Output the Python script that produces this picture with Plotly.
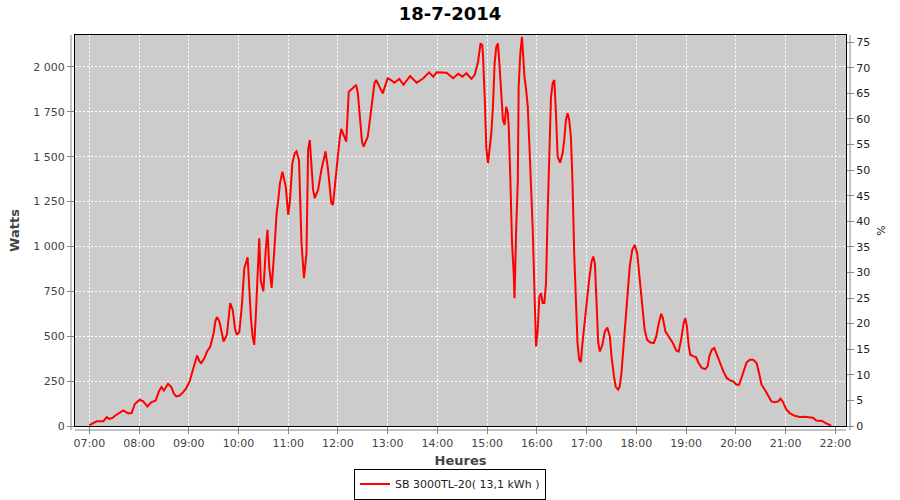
import plotly.graph_objects as go
import pandas as pd

DATE = "2014-07-18"
TITLE = "18-7-2014"
SERIES_NAME = "SB 3000TL-20( 13,1 kWh )"

times = [
    "07:00", "07:05", "07:09", "07:17", "07:21", "07:24", "07:28", "07:31", "07:36", "07:41",
    "07:47", "07:51", "07:55", "08:01", "08:05", "08:10", "08:15", "08:20", "08:24", "08:27",
    "08:30", "08:35", "08:39", "08:42", "08:45", "08:49", "08:53", "08:57", "09:01", "09:05",
    "09:10", "09:13", "09:15", "09:19", "09:22", "09:26", "09:30", "09:32", "09:34", "09:37",
    "09:40", "09:42", "09:46", "09:48", "09:50", "09:53", "09:56", "09:58", "10:01", "10:04",
    "10:07", "10:11", "10:13", "10:15", "10:17", "10:19", "10:21", "10:23", "10:25", "10:27",
    "10:30", "10:33", "10:35", "10:37", "10:40", "10:43", "10:46", "10:48", "10:50", "10:53",
    "10:57", "11:00", "11:02", "11:05", "11:08", "11:10", "11:13", "11:16", "11:19", "11:22",
    "11:24", "11:26", "11:28", "11:30", "11:32", "11:36", "11:40", "11:45", "11:48", "11:52",
    "11:54", "11:58", "12:02", "12:04", "12:08", "12:10", "12:13", "12:17", "12:22", "12:24",
    "12:26", "12:29", "12:31", "12:36", "12:40", "12:44", "12:46", "12:50", "12:54", "13:00",
    "13:04", "13:08", "13:14", "13:19", "13:27", "13:35", "13:43", "13:50", "13:55", "13:59",
    "14:11", "14:19", "14:25", "14:30", "14:35", "14:41", "14:45", "14:49", "14:52", "14:54",
    "14:55", "14:57", "14:59", "15:01", "15:03", "15:05", "15:07", "15:09", "15:11", "15:13",
    "15:15", "15:17", "15:19", "15:21", "15:23", "15:25", "15:26", "15:28", "15:30", "15:32",
    "15:33", "15:35", "15:37", "15:38", "15:40", "15:42", "15:43", "15:45", "15:47", "15:49",
    "15:51", "15:53", "15:55", "15:57", "15:59", "16:01", "16:03", "16:05", "16:07", "16:09",
    "16:11", "16:13", "16:15", "16:17", "16:19", "16:21", "16:23", "16:25", "16:28", "16:31",
    "16:33", "16:35", "16:37", "16:39", "16:41", "16:43", "16:45", "16:47", "16:49", "16:51",
    "16:53", "16:55", "16:59", "17:03", "17:06", "17:08", "17:10", "17:12", "17:14", "17:16",
    "17:19", "17:22", "17:25", "17:28", "17:30", "17:33", "17:35", "17:38", "17:40", "17:42",
    "17:45", "17:48", "17:52", "17:55", "17:58", "18:01", "18:04", "18:07", "18:10", "18:13",
    "18:17", "18:21", "18:24", "18:27", "18:30", "18:32", "18:35", "18:39", "18:44", "18:48",
    "18:51", "18:54", "18:57", "18:59", "19:01", "19:03", "19:05", "19:09", "19:12", "19:15",
    "19:19", "19:23", "19:26", "19:28", "19:31", "19:34", "19:37", "19:41", "19:45", "19:49",
    "19:53", "19:57", "20:01", "20:04", "20:07", "20:10", "20:13", "20:17", "20:21", "20:25",
    "20:28", "20:31", "20:35", "20:39", "20:43", "20:47", "20:51", "20:54", "20:57", "21:01",
    "21:05", "21:11", "21:17", "21:23", "21:29", "21:33", "21:37", "21:41", "21:44", "21:48",
    "21:53", "21:55",
]

watts = [
    5, 15, 26, 26, 50, 40, 45, 57, 70, 87,
    70, 72, 124, 146, 137, 109, 133, 141, 193, 217,
    198, 235, 217, 180, 165, 170, 187, 211, 248, 313,
    393, 360, 350, 378, 415, 443, 518, 582, 607, 582,
    518, 471, 508, 620, 685, 647, 536, 508, 525, 666,
    879, 940, 760, 600, 500, 452, 625, 888, 1046, 805,
    750, 990, 1093, 888, 770, 963, 1186, 1260, 1352, 1417,
    1334, 1176, 1250, 1464, 1520, 1529, 1480, 1019, 824, 960,
    1538, 1593, 1445, 1315, 1269, 1315, 1427, 1529, 1430, 1241,
    1232, 1427, 1600, 1655, 1600, 1584, 1862, 1881, 1900, 1853,
    1723, 1584, 1556, 1612, 1760, 1909, 1927, 1890, 1853, 1937,
    1927, 1912, 1933, 1900, 1950, 1912, 1937, 1970, 1946, 1970,
    1968, 1937, 1962, 1946, 1965, 1933, 1956, 2029, 2131, 2122,
    2064, 1834, 1550, 1464, 1556, 1631, 1779, 2020, 2113, 2131,
    2002, 1872, 1705, 1677, 1779, 1742, 1668, 1371, 1019, 852,
    712, 1093, 1371, 1890, 2076, 2168, 2064, 1946, 1872, 1779,
    1556, 1334, 1093, 759, 443, 536, 721, 740, 685, 685,
    796, 1186, 1538, 1834, 1909, 1927, 1742, 1500, 1467, 1519,
    1593, 1705, 1742, 1705, 1612, 1352, 960, 721, 462, 369,
    356, 462, 647, 814, 916, 944, 903, 647, 462, 415,
    452, 527, 549, 499, 388, 276, 220, 202, 220, 295,
    480, 666, 888, 981, 1009, 963, 814, 666, 536, 480,
    465, 462, 499, 573, 625, 601, 527, 499, 462, 421,
    415, 480, 573, 601, 555, 452, 397, 388, 384, 351,
    323, 317, 332, 388, 425, 434, 397, 351, 304, 267,
    254, 248, 230, 230, 267, 313, 354, 369, 369, 351,
    295, 230, 202, 165, 137, 132, 137, 152, 132, 91,
    72, 57, 50, 52, 50, 46, 30, 28, 28, 17,
    8, 2,
]

x_range = ["06:42:45", "22:12:55"]
watts_range = [0, 2178]
pct_range = [0, 76.4]

x_vals = pd.to_datetime([f"{DATE} {t}" for t in times])

W, H = 900, 500
ML, MR, MT, MB = 75, 54, 35, 74
PW = W - ML - MR
PH = H - MT - MB

tick_font = dict(family="DejaVu Sans", size=11, color="#444444")

fig = go.Figure()
fig.add_trace(go.Scatter(
    x=x_vals, y=watts, mode="lines", name=SERIES_NAME,
    line=dict(color="#ff0000", width=2),
))
# empty trace that binds the right-hand percent axis so it is drawn
fig.add_trace(go.Scatter(
    x=[], y=[], mode="lines", yaxis="y2", showlegend=False, hoverinfo="skip",
))

fig.update_layout(
    width=W, height=H,
    margin=dict(l=ML, r=MR, t=MT, b=MB, autoexpand=False),
    paper_bgcolor="white",
    plot_bgcolor="#cccccc",
    separators=", ",
    title=dict(text=TITLE, x=0.5, xref="container", xanchor="center",
               y=1 - 14 / H, yref="container", yanchor="middle",
               font=dict(family="DejaVu Sans", size=18, color="black", weight="bold")),
    xaxis=dict(
        type="date",
        range=[f"{DATE} {x_range[0]}", f"{DATE} {x_range[1]}"],
        tick0=f"{DATE} 07:00", dtick=3600000, tickformat="%H:%M",
        showgrid=True, gridcolor="white", griddash="2px,2px", gridwidth=1,
        zeroline=False,
        showline=True, linecolor="black", linewidth=1, mirror=True,
        ticks="outside", ticklen=7, tickcolor="#888888",
        tickfont=tick_font,
        title=dict(text="Heures", standoff=6,
                   font=dict(family="DejaVu Sans", size=13, color="#444444", weight="bold")),
    ),
    yaxis=dict(
        range=watts_range, dtick=250, tick0=0, tickformat=",d",
        showgrid=True, gridcolor="white", griddash="2px,2px", gridwidth=1,
        zeroline=False,
        showline=True, linecolor="black", linewidth=1, mirror=True,
        ticks="outside", ticklen=7, tickcolor="#888888",
        tickfont=tick_font,
        title=dict(text="Watts", standoff=10,
                   font=dict(family="DejaVu Sans", size=13, color="#444444", weight="bold")),
    ),
    yaxis2=dict(
        overlaying="y", side="right",
        range=pct_range, dtick=5, tick0=0,
        showgrid=False, zeroline=False, showline=False,
        ticks="outside", ticklen=7, tickcolor="#888888",
        tickfont=dict(family="DejaVu Sans", size=11, color="#222222"),
        title=dict(text="%", standoff=8,
                   font=dict(family="DejaVu Sans", size=11, color="#222222")),
    ),
    showlegend=True,
    legend=dict(
        orientation="h", x=(450 - ML) / PW, xanchor="center",
        y=(H - MB - 499.5) / PH, yanchor="bottom",
        bordercolor="black", borderwidth=1, bgcolor="white",
        font=dict(family="DejaVu Sans", size=11, color="#222222"),
        itemwidth=30,
    ),
    shapes=[
        dict(type="line", xref="paper", yref="paper", x0=-4 / PW, x1=-4 / PW, y0=-4 / PH, y1=1,
             line=dict(color="#888888", width=1)),
        dict(type="line", xref="paper", yref="paper", x0=0, x1=1, y0=-4 / PH, y1=-4 / PH,
             line=dict(color="#888888", width=1)),
        dict(type="line", xref="paper", yref="paper", x0=1 + 4 / PW, x1=1 + 4 / PW, y0=-4 / PH, y1=1,
             line=dict(color="#888888", width=1)),
    ],
)

fig.write_html(
    "out.html",
    config={"displayModeBar": False},
    post_script="document.body.style.margin='0';document.body.style.overflow='hidden';",
)
